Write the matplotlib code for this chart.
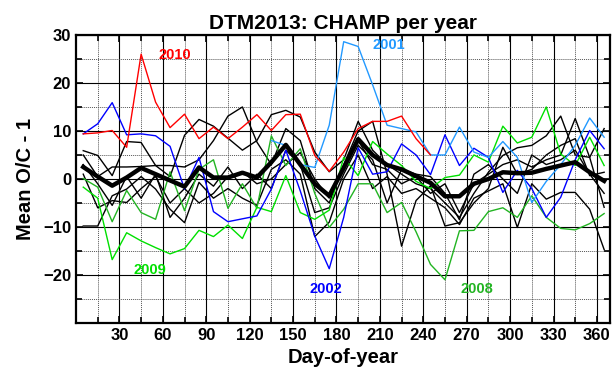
import matplotlib
matplotlib.use("Agg")
import matplotlib.pyplot as plt
from matplotlib.ticker import MultipleLocator

plt.rcParams['font.family'] = ['Liberation Sans', 'DejaVu Sans']
plt.rcParams['font.weight'] = 'bold'

# 10-day bins, centred on day 5, 15, ..., 365
days = list(range(5, 366, 10))

y2001_days = list(range(135, 366, 10))
y2001 = [8.0, 7.0, 3.0, 2.4, 11.2, 28.6, 27.6, 19.6, 11.2, 10.5, 9.8, 5.0,
         5.0, 10.8, 5.6, 4.5, 7.8, 4.5, -4.9, -0.5, 3.0, 7.0, 12.7, 8.7]

y2002 = [9.4, 11.5, 15.9, 9.2, 9.4, 9.0, 6.8, -2.1, 4.5, -6.8, -8.9, -8.3, -7.7,
         -2.1, 6.0, -2.5, -11.9, -18.7, -8.0, 6.5, 1.0, 1.5, 7.3, 5.0, 0.9,
         9.2, 2.8, 6.4, 4.5, -2.8, 1.8, -2.0, -8.0, -3.8, 4.0, 10.1, 6.3]

y2003 = [5.9, 4.9, 0.7, 7.8, 7.6, 2.8, 0.5, 9.1, 12.4, 11.0, 8.5, 6.0, 8.0,
         13.4, 14.3, 12.9, 5.6, 1.5, 4.0, 12.0, 6.0, 3.0, 1.0, -1.0, -2.0,
         -5.0, -8.0, -3.0, 1.4, 4.9, 6.5, 7.0, 9.0, 13.1, 5.0, 4.5, 10.5]

y2004 = [5.0, 0.5, 2.5, 2.5, 2.6, 2.8, 2.8, 2.5, 4.0, 8.0, 13.1, 15.0, 7.7,
         3.0, 10.5, 8.0, -2.0, -5.0, 3.0, 10.0, 12.0, 1.0, -14.0, -4.5, -1.4,
         -9.8, -9.1, -5.0, -2.0, 6.6, 1.0, 2.0, 5.0, 7.0, 8.4, 0.7, 1.4]

y2005 = [-9.8, -9.8, -3.5, -2.1, 0.5, -2.1, -6.3, -9.1, -0.7, -4.0, -2.0, -4.0,
         -5.5, 2.0, 4.0, 1.0, -12.0, -9.0, 0.0, 5.0, -2.0, 0.5, -3.0, -2.0,
         -4.0, -6.0, -9.5, -4.0, -2.5, -1.0, -10.1, -1.0, -4.2, -2.8, -2.8,
         -6.3, -14.7]

y2006 = [1.0, -6.0, -4.5, -4.9, -2.0, 0.5, -5.0, -2.0, -5.0, -3.0, 0.5, 1.5,
         -1.0, 0.0, 3.0, 5.5, 0.0, -4.0, 2.0, 8.0, 3.0, 2.0, -1.0, 0.5, -3.0,
         -1.0, -7.0, -1.0, 1.0, 3.0, 4.0, 2.5, 4.0, 5.0, 12.6, 4.5, -5.9]

y2007 = [3.0, -1.0, -5.5, 0.5, -4.0, 1.0, -8.0, -4.0, 1.0, -1.5, 2.5, -2.0,
         1.0, -2.0, 6.0, 3.0, -7.0, -6.0, 1.0, 7.0, 4.0, -5.0, 2.0, 1.0, 0.5,
         -3.0, -8.5, 1.0, 3.0, 0.0, -3.0, 5.0, 3.0, 4.0, 6.0, 1.0, -3.0]

y2008 = [0.1, -1.7, -8.9, -2.4, -7.0, -8.4, 1.5, -6.6, 2.0, 4.0, -6.1, -1.0,
         -6.1, 9.0, 2.8, 6.3, -3.0, -10.1, -6.3, -1.0, -1.0, -7.0, -4.9, -11.0,
         -17.8, -21.0, -10.8, -10.7, -6.8, -6.0, -8.0, -3.5, -8.0, -10.3,
         -10.6, -9.3, -7.2]

y2009 = [-1.7, -4.0, -16.8, -11.2, -12.9, -14.3, -15.6, -14.5, -10.7, -12.0,
         -9.6, -12.4, -5.9, -6.8, 0.7, -7.0, -8.4, -6.5, 4.5, 0.7, 7.8, 5.2,
         2.8, -0.5, -2.0, 0.3, 0.8, 5.0, 3.5, 11.0, 7.5, 8.7, 15.0, 5.2, 2.8,
         8.7, 2.8]

y2010_days = list(range(5, 246, 10))
y2010 = [9.4, 9.6, 10.1, 6.6, 26.0, 16.0, 10.7, 13.5, 8.4, 10.8, 8.4, 10.8,
         13.4, 10.1, 13.4, 13.5, 4.9, 1.6, 5.6, 10.5, 12.0, 12.0, 13.1, 8.4, 5.0]

mean_all = [2.5, 0.5, -1.4, 0.3, 2.3, 1.0, -0.3, -1.6, 2.4, 0.3, 0.3, 1.3,
            0.3, 3.5, 7.1, 3.0, -1.0, -3.5, 2.3, 8.3, 5.0, 2.9, 2.0, 0.6, -0.8,
            -3.6, -3.6, -1.0, 0.0, 1.4, 1.2, 1.3, 2.1, 2.8, 3.5, 1.4, -0.4]

fig = plt.figure(figsize=(6.13, 3.76), dpi=100)
ax = fig.add_axes([0.124, 0.141, 0.871, 0.766])

for yr in [y2003, y2004, y2005, y2006, y2007]:
    ax.plot(days, yr, color="black", linewidth=1.0)
ax.plot(days, y2008, color="#22b422", linewidth=1.0)
ax.plot(days, y2009, color="#00e000", linewidth=1.0)
ax.plot(days, y2002, color="#0000ff", linewidth=1.0)
ax.plot(y2001_days, y2001, color="#2299ff", linewidth=1.0)
ax.plot(y2010_days, y2010, color="#ff0000", linewidth=1.0)
ax.plot(days, mean_all, color="black", linewidth=3.2)

ax.text(68, 25.8, "2010", color="#ff0000", fontsize=10.5, fontweight="bold", ha="center", va="center")
ax.text(216, 27.9, "2001", color="#2299ff", fontsize=10.5, fontweight="bold", ha="center", va="center")
ax.text(51, -18.9, "2009", color="#00e000", fontsize=10.5, fontweight="bold", ha="center", va="center")
ax.text(173, -22.9, "2002", color="#0000ff", fontsize=10.5, fontweight="bold", ha="center", va="center")
ax.text(277, -22.9, "2008", color="#22b422", fontsize=10.5, fontweight="bold", ha="center", va="center")

ax.set_xlim(0, 369)
ax.set_ylim(-30, 30)
ax.set_xticks(range(30, 361, 30))
ax.set_yticks(range(-20, 31, 10))
ax.xaxis.set_minor_locator(MultipleLocator(15))
ax.yaxis.set_minor_locator(MultipleLocator(5))
ax.grid(which="major", color="black", linestyle="-", linewidth=0.8)
ax.grid(which="minor", color="#555555", linestyle=(0, (1, 1)), linewidth=0.7)
ax.tick_params(which="both", direction="in", top=True, right=True, labelsize=12, width=1.2)
ax.tick_params(which="major", length=5)
ax.tick_params(which="minor", length=4)
for lbl in ax.get_xticklabels() + ax.get_yticklabels():
    lbl.set_fontweight("bold")
for s in ax.spines.values():
    s.set_linewidth(1.6)

ax.set_title("DTM2013: CHAMP per year", fontsize=15, fontweight="bold", pad=4)
ax.set_xlabel("Day-of-year", fontsize=14.5, fontweight="bold", labelpad=4)
ax.set_ylabel("Mean O/C - 1", fontsize=14.5, fontweight="bold", labelpad=6)

fig.savefig("out.png", dpi=100)
